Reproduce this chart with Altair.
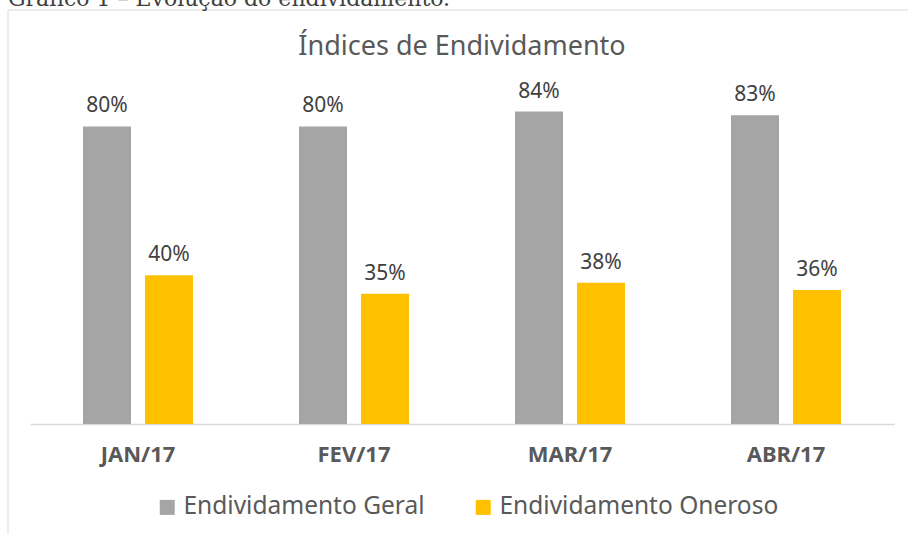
import altair as alt
import pandas as pd

months = ["JAN/17", "FEV/17", "MAR/17", "ABR/17"]
series = ["Endividamento Geral", "Endividamento Oneroso"]
geral = [0.80, 0.80, 0.84, 0.83]
oneroso = [0.40, 0.35, 0.38, 0.36]
colors = ["#a5a5a5", "#ffc000"]
chart_title = ["Índices de Endividamento"]
caption = ["Gráfico 1 – Evolução do endividamento."]

rows = []
for i, m in enumerate(months):
    rows.append({"month": m, "series": series[0], "value": geral[i]})
    rows.append({"month": m, "series": series[1], "value": oneroso[i]})
df = pd.DataFrame(rows)

FONT = "Noto Sans"

base = alt.Chart(df).encode(
    x=alt.X(
        "month:N",
        sort=months,
        title=None,
        scale=alt.Scale(paddingInner=0, paddingOuter=0),
        axis=alt.Axis(
            labelAngle=0,
            ticks=False,
            grid=False,
            domainColor="#d9d9d9",
            domainWidth=1.5,
            labelFont=FONT,
            labelFontSize=22,
            labelFontWeight="bold",
            labelColor="#595959",
            labelPadding=20,
        ),
    ),
    xOffset=alt.XOffset(
        "series:N",
        sort=series,
        scale=alt.Scale(paddingInner=0.2258, paddingOuter=0.855),
    ),
    y=alt.Y(
        "value:Q",
        scale=alt.Scale(domain=[0, 1]),
        axis=None,
    ),
)

bars = base.mark_bar().encode(
    color=alt.Color(
        "series:N",
        sort=series,
        scale=alt.Scale(domain=series, range=colors),
        legend=alt.Legend(
            title=None,
            orient="none",
            legendX=125,
            legendY=443,
            direction="horizontal",
            symbolType="square",
            symbolSize=225,
            symbolStrokeWidth=0,
            labelFont=FONT,
            labelFontSize=24.5,
            labelColor="#595959",
            labelOffset=4,
            labelLimit=400,
            columnPadding=46,
        ),
    )
)

labels = base.mark_text(
    dy=-14, baseline="alphabetic", font=FONT, fontSize=21, color="#404040"
).encode(text=alt.Text("value:Q", format=".0%"))

border = alt.Chart(pd.DataFrame({"k": [0]})).mark_rect(
    fillOpacity=0, stroke="#d9d9d9", strokeWidth=1
).encode(
    x=alt.value(-22), x2=alt.value(900), y=alt.value(-42), y2=alt.value(600)
)

cap = alt.Chart(pd.DataFrame({"t": caption})).mark_text(
    align="left", baseline="alphabetic", font="DejaVu Serif", fontSize=22, color="#404040"
).encode(text="t:N", x=alt.value(-22), y=alt.value(-46))

title = alt.Chart(pd.DataFrame({"t": chart_title})).mark_text(
    align="center", baseline="alphabetic", font=FONT, fontSize=27, color="#595959"
).encode(text="t:N", x=alt.value(432), y=alt.value(3))

chart = alt.layer(border, cap, title, bars, labels).properties(
    width=864,
    height=372,
    padding={"left": 30, "top": 52, "right": 14, "bottom": 110},
    autosize=alt.AutoSizeParams(type="none"),
    background="white",
).configure_view(stroke=None)

chart.save("out.html", embed_options={"renderer": "svg", "actions": False})
